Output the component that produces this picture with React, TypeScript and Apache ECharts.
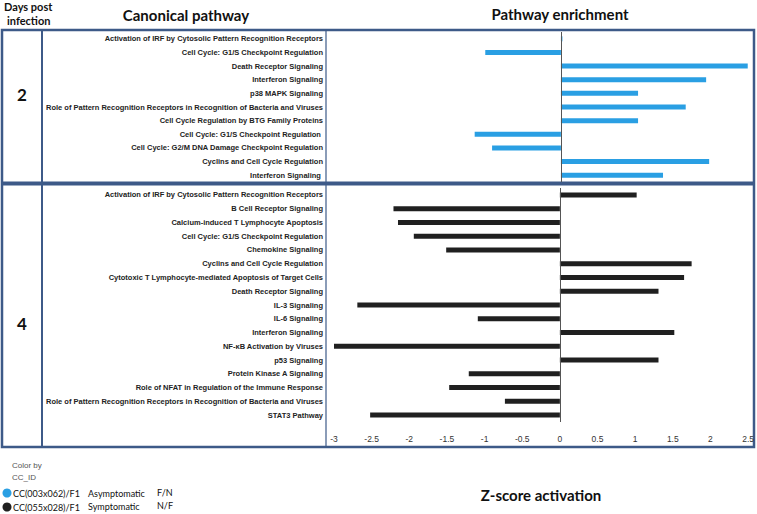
import React, { useEffect, useRef } from "react";
import * as echarts from "echarts";

const day2Pathways = [
  "Activation of IRF by Cytosolic Pattern Recognition Receptors",
  "Cell Cycle: G1/S Checkpoint Regulation",
  "Death Receptor Signaling",
  "Interferon Signaling",
  "p38 MAPK Signaling",
  "Role of Pattern Recognition Receptors in Recognition of Bacteria and Viruses",
  "Cell Cycle Regulation by BTG Family Proteins",
  "Cell Cycle: G1/S Checkpoint Regulation ",
  "Cell Cycle: G2/M DNA Damage Checkpoint Regulation",
  "Cyclins and Cell Cycle Regulation",
  "Interferon Signaling ",
];
const day2Values = [0.02, -1.0, 2.47, 1.92, 1.02, 1.65, 1.02, -1.14, -0.91, 1.96, 1.35];

const day4Pathways = [
  "Activation of IRF by Cytosolic Pattern Recognition Receptors",
  "B Cell Receptor Signaling",
  "Calcium-induced T Lymphocyte Apoptosis",
  "Cell Cycle: G1/S Checkpoint Regulation",
  "Chemokine Signaling",
  "Cyclins and Cell Cycle Regulation",
  "Cytotoxic T Lymphocyte-mediated Apoptosis of Target Cells",
  "Death Receptor Signaling",
  "IL-3 Signaling",
  "IL-6 Signaling",
  "Interferon Signaling",
  "NF-κB Activation by Viruses",
  "p53 Signaling",
  "Protein Kinase A Signaling",
  "Role of NFAT in Regulation of the Immune Response",
  "Role of Pattern Recognition Receptors in Recognition of Bacteria and Viruses",
  "STAT3 Pathway",
];
const day4Values = [1.02, -2.21, -2.15, -1.94, -1.51, 1.75, 1.65, 1.31, -2.69, -1.09, 1.52, -3.0, 1.31, -1.21, -1.47, -0.73, -2.52];

const days = ["2", "4"];
const groupIds = ["CC(003x062)/F1", "CC(055x028)/F1"];
const groupStatus = ["Asymptomatic", "Symptomatic"];
const groupSex = ["F/N", "N/F"];

const BLUE = "#2a9fe3";
const BLACK = "#202020";
const FRAME = "#3d5a88";
const LABEL_FONT = "'Liberation Sans', Arial, sans-serif";
const HEAD_FONT = "Lato, 'Open Sans', sans-serif";

export default function App() {
  const ref = useRef<HTMLDivElement>(null);
  useEffect(() => {
    if (!ref.current) return;
    const chart = echarts.init(ref.current, null, { renderer: "svg" });
    const xBase = {
      type: "value" as const,
      min: -3,
      max: 2.5,
      interval: 0.5,
      axisLine: { show: false },
      axisTick: { show: false },
      splitLine: { show: false },
    };
    const yBase = {
      type: "category" as const,
      inverse: true,
      axisLine: { show: false },
      axisTick: { show: false },
      splitLine: { show: false },
      axisLabel: {
        fontSize: 7.5,
        fontWeight: "bold" as const,
        color: "#222",
        fontFamily: LABEL_FONT,
        margin: 11,
        interval: 0,
      },
    };
    const zeroLine = {
      silent: true,
      symbol: "none",
      label: { show: false },
      lineStyle: { color: "#555", width: 1, type: "solid" as const },
      data: [{ xAxis: 0 }],
    };
    chart.setOption({
      animation: false,
      grid: [
        { left: 334, right: 7, top: 32, height: 150 },
        { left: 334, right: 7, top: 188, height: 234 },
      ],
      xAxis: [
        { ...xBase, gridIndex: 0, axisLabel: { show: false } },
        {
          ...xBase,
          gridIndex: 1,
          axisLabel: { show: true, fontSize: 8.5, color: "#333", fontFamily: LABEL_FONT, margin: 12 },
        },
      ],
      yAxis: [
        { ...yBase, gridIndex: 0, data: day2Pathways },
        { ...yBase, gridIndex: 1, data: day4Pathways },
      ],
      series: [
        {
          type: "bar",
          xAxisIndex: 0,
          yAxisIndex: 0,
          data: day2Values,
          barWidth: 5,
          itemStyle: { color: BLUE },
          markLine: zeroLine,
        },
        {
          type: "bar",
          xAxisIndex: 1,
          yAxisIndex: 1,
          data: day4Values,
          barWidth: 5,
          itemStyle: { color: BLACK },
          markLine: zeroLine,
        },
      ],
      graphic: [
        // frame
        { type: "rect", shape: { x: 2, y: 30, width: 752, height: 417 }, style: { fill: "none", stroke: FRAME, lineWidth: 2.5 }, silent: true },
        { type: "line", shape: { x1: 42, y1: 30, x2: 42, y2: 447 }, style: { stroke: FRAME, lineWidth: 2 }, silent: true },
        { type: "line", shape: { x1: 326, y1: 30, x2: 326, y2: 447 }, style: { stroke: FRAME, lineWidth: 1.2 }, silent: true },
        { type: "line", shape: { x1: 2, y1: 183.5, x2: 754, y2: 183.5 }, style: { stroke: FRAME, lineWidth: 4 }, silent: true },
        // headers
        { type: "text", left: 4, top: 1, style: { text: "Days post", fontSize: 11, fontWeight: "bold", fontFamily: HEAD_FONT, fill: "#111" } },
        { type: "text", left: 7, top: 15, style: { text: "infection", fontSize: 11, fontWeight: "bold", fontFamily: HEAD_FONT, fill: "#111" } },
        { type: "text", x: 186, y: 15, style: { text: "Canonical pathway", fontSize: 15, fontWeight: "bold", fontFamily: HEAD_FONT, fill: "#111", align: "center", verticalAlign: "middle" } },
        { type: "text", x: 560, y: 14, style: { text: "Pathway enrichment", fontSize: 15, fontWeight: "bold", fontFamily: HEAD_FONT, fill: "#111", align: "center", verticalAlign: "middle" } },
        { type: "text", x: 22, y: 94, style: { text: days[0], fontSize: 17, fontWeight: "bold", fontFamily: HEAD_FONT, fill: "#111", align: "center", verticalAlign: "middle" } },
        { type: "text", x: 22, y: 323, style: { text: days[1], fontSize: 17, fontWeight: "bold", fontFamily: HEAD_FONT, fill: "#111", align: "center", verticalAlign: "middle" } },
        // legend
        { type: "text", left: 12, top: 461, style: { text: "Color by", fontSize: 8, fontFamily: LABEL_FONT, fill: "#555" } },
        { type: "text", left: 12, top: 473, style: { text: "CC_ID", fontSize: 8, fontFamily: LABEL_FONT, fill: "#555" } },
        { type: "circle", shape: { cx: 7, cy: 493, r: 4.5 }, style: { fill: BLUE } },
        { type: "circle", shape: { cx: 7, cy: 507, r: 4.5 }, style: { fill: BLACK } },
        { type: "text", x: 13, y: 493, style: { text: groupIds[0], fontSize: 9, fontFamily: HEAD_FONT, fill: "#111", verticalAlign: "middle" } },
        { type: "text", x: 13, y: 507, style: { text: groupIds[1], fontSize: 9, fontFamily: HEAD_FONT, fill: "#111", verticalAlign: "middle" } },
        { type: "text", x: 88, y: 493, style: { text: groupStatus[0], fontSize: 9, fontFamily: HEAD_FONT, fill: "#111", verticalAlign: "middle" } },
        { type: "text", x: 88, y: 506, style: { text: groupStatus[1], fontSize: 9, fontFamily: HEAD_FONT, fill: "#111", verticalAlign: "middle" } },
        { type: "text", x: 157, y: 492, style: { text: groupSex[0], fontSize: 9, fontFamily: HEAD_FONT, fill: "#111", verticalAlign: "middle" } },
        { type: "text", x: 157, y: 505, style: { text: groupSex[1], fontSize: 9, fontFamily: HEAD_FONT, fill: "#111", verticalAlign: "middle" } },
        { type: "text", x: 541, y: 495, style: { text: "Z-score activation", fontSize: 15, fontWeight: "bold", fontFamily: HEAD_FONT, fill: "#111", align: "center", verticalAlign: "middle" } },
      ],
    });
    return () => chart.dispose();
  }, []);
  return (
    <div
      ref={ref}
      style={{ position: "fixed", left: 0, top: 0, width: 757, height: 514, background: "#fff" }}
    />
  );
}
